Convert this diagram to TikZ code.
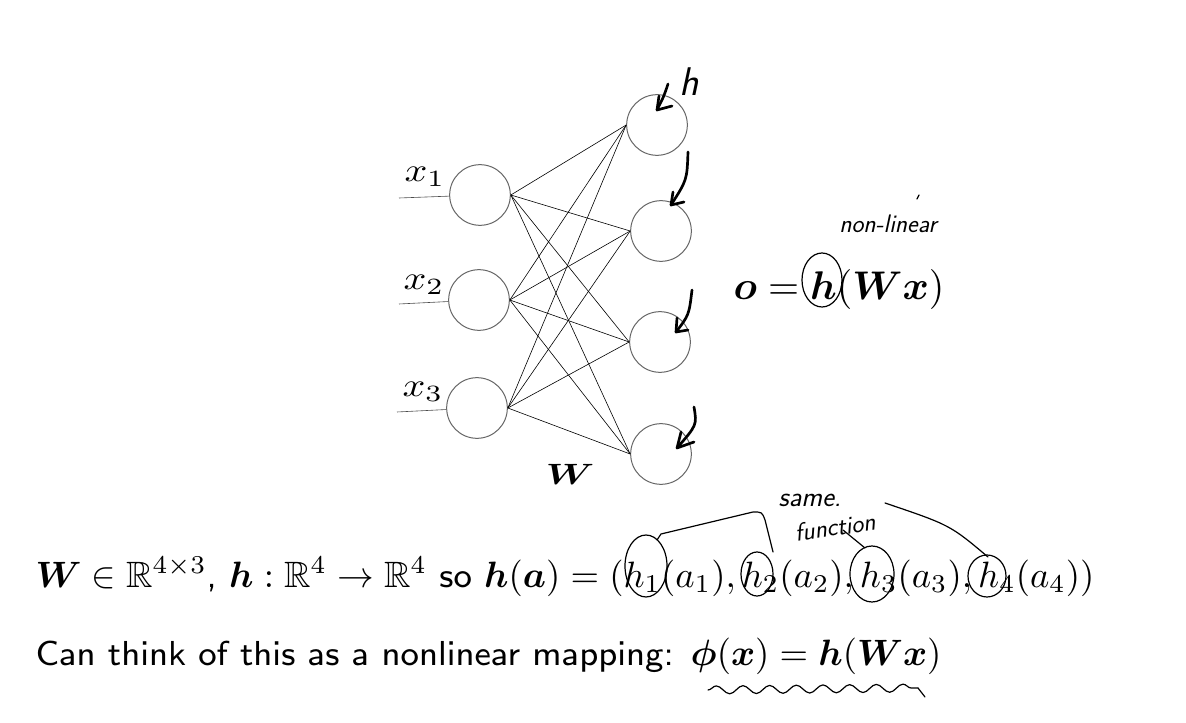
\documentclass[tikz,border=0pt]{standalone}
\usepackage{amsmath,amssymb,bm,graphicx}
\usetikzlibrary{decorations.pathmorphing}

\font\slidesf=cmss8 at 26pt
\newcommand{\slidemath}[2][2.75]{\scalebox{#1}{\fontsize{10}{12}\selectfont$#2$}}

\tikzset{every picture/.style={line width=0.75pt}}
\tikzset{
  unit/.style={draw=black!60, circle, minimum size=45.5pt, inner sep=0pt},
  wire/.style={draw=black, line width=0.45pt},
  pen/.style={draw=black, line width=2pt, line cap=round, line join=round},
  penthin/.style={draw=black, line width=0.9pt, line cap=round, line join=round},
  scribble/.style={font=\sffamily\itshape\fontsize{19}{20}\selectfont},
  slide/.style={font=\slidesf, inner sep=0pt},
}

\begin{document}
\begin{tikzpicture}[x=0.75pt,y=0.75pt,yscale=-1,xscale=1]
	\useasboundingbox (0,0) rectangle (1186,723);

	% input units
	\node[unit] (in1) at (480,195) {};
	\node[unit] (in2) at (479,300) {};
	\node[unit] (in3) at (477,408) {};
	% output units
	\node[unit] (out1) at (657,125) {};
	\node[unit] (out2) at (661,231) {};
	\node[unit] (out3) at (660,342) {};
	\node[unit] (out4) at (661,454) {};

	% weights
	\foreach \i in {1,2,3}
		\foreach \j in {1,2,3,4}
			\draw[wire] (in\i.east) -- (out\j.west);

	% input lines and labels
	\coordinate (feed1) at (399,198);
	\coordinate (feed2) at (399,304);
	\coordinate (feed3) at (397,412);
	\foreach \i in {1,2,3}
		\draw[wire, draw=black!70] (feed\i) -- (in\i);
	\node (lx1) at (425,177) {\scalebox{3.0}[2.5]{$x_1$}};
	\node (lx2) at (424,285) {\scalebox{3.0}[2.5]{$x_2$}};
	\node (lx3) at (423,392) {\scalebox{3.0}[2.5]{$x_3$}};
	\node (lW) at (570,474) {\scalebox{2.9}[2.2]{$\boldsymbol{W}$}};

	% output equation
	\node[slide, anchor=base west] (eqo) at (733,300) {\slidemath[3.0]{\boldsymbol{o} = \boldsymbol{h}(\boldsymbol{W}\boldsymbol{x})}};

	% bottom lines
	\node[slide, anchor=base west] (map) at (35,587) {\slidemath{\boldsymbol{W}\in\mathbb{R}^{4\times3}}, \slidemath{\boldsymbol{h}:\mathbb{R}^4\to\mathbb{R}^4} so \slidemath{\boldsymbol{h}(\boldsymbol{a}) = (h_1(a_1), h_2(a_2), h_3(a_3), h_4(a_4))}};
	\node[slide, anchor=base west] (phi) at (35,665) {Can think of this as a nonlinear mapping: \slidemath{\boldsymbol{\phi}(\boldsymbol{x}) = \boldsymbol{h}(\boldsymbol{W}\boldsymbol{x})}};

	% handwritten arrows into the output units
	\draw[pen] (668,84) .. controls (664,96) .. (657,110);
	\draw[pen] (659,96) -- (657,110) -- (672,106);
	\node[font=\sffamily\itshape\fontsize{30}{30}\selectfont] (hnote) at (689,82) {h};
	\draw[pen] (688,152) .. controls (687,180) .. (671,205);
	\draw[pen] (673,192) -- (671,205) -- (684,202);
	\draw[pen] (692,290) .. controls (689,315) .. (676,332);
	\draw[pen] (677,318) -- (676,332) -- (688,330);
	\draw[pen] (694,407) .. controls (697,425) .. (677,448);
	\draw[pen] (681,432) -- (677,448) -- (694,442);

	% circled h and note
	\draw[penthin] (822,280) ellipse [x radius=20, y radius=27];
	\node[scribble] (nonlin) at (888,224) {non-linear};
	\draw[penthin] (917,199) -- (919,195);

	% same function notes
	\draw[penthin] (646,566) ellipse [x radius=21, y radius=31];
	\draw[penthin] (757,574) ellipse [x radius=16, y radius=22];
	\draw[penthin] (872,574) ellipse [x radius=22, y radius=28];
	\draw[penthin] (987,576) ellipse [x radius=19, y radius=21];
	\draw[penthin] (657,540) -- (661,534) -- (753,512) .. controls (762,512) .. (765,520) -- (773,552);
	\draw[penthin] (865,548) -- (843,530);
	\draw[penthin] (988,557) .. controls (950,525) .. (885,503);
	\node[scribble, font=\sffamily\itshape\fontsize{21}{22}\selectfont] (same) at (810,500) {same.};
	\node[scribble, rotate=8] (func) at (835,527) {function};

	% wavy underline
	\draw[penthin, decorate, decoration={snake, segment length=20pt, amplitude=3pt}] (708,690) -- (918,688);
	\draw[penthin] (918,688) -- (925,697);

\end{tikzpicture}
\end{document}
